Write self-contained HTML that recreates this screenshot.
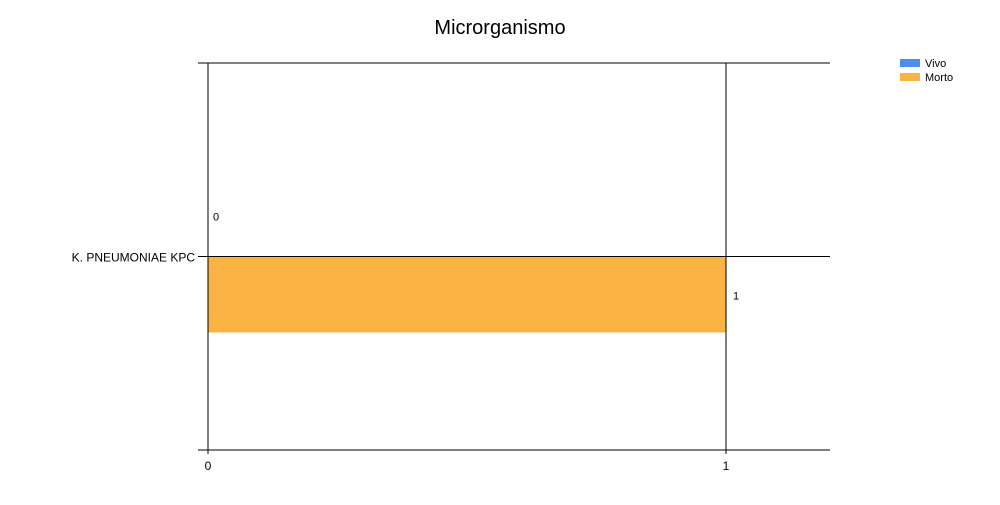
<!DOCTYPE html>
<html><head><meta charset="utf-8"><style>
body{margin:0;background:#fff;font-family:"Liberation Sans",sans-serif}
</style></head><body>
<svg id="c" width="1000" height="500" xmlns="http://www.w3.org/2000/svg" shape-rendering="crispEdges">
<text x="500" y="34" text-anchor="middle" font-size="20">Microrganismo</text>
<g>
<rect x="900" y="59" width="20" height="8" fill="#4a8ff0"/>
<text x="925" y="67" font-size="11">Vivo</text>
<rect x="900" y="73" width="20" height="8" fill="#fbb344"/>
<text x="925" y="81" font-size="11">Morto</text>
</g>
<g id="plot"></g>
</svg>
<script>
const categories=["K. PNEUMONIAE KPC"];
const vivo=[0];
const morto=[1];
const xTicks=[0,1];
const ns="http://www.w3.org/2000/svg";
const L=208,R=830,T=63,B=450;
const xs=v=>L+(726-L)*v/1;
const band=(B-T)/categories.length;
const g=document.getElementById('plot');
function mk(t,a,txt){const e=document.createElementNS(ns,t);for(const k in a)e.setAttribute(k,a[k]);if(txt!==undefined)e.textContent=txt;g.appendChild(e);return e;}
categories.forEach((c,i)=>{
 const cy=T+band*(i+0.5);
 const bh=band*0.197;
 const vb=mk('rect',{x:L,y:cy-bh,width:xs(vivo[i])-L,height:bh,fill:'#4a8ff0'});
 
 
 const vt=mk('text',{x:xs(vivo[i])+5,y:cy-36,'font-size':11},String(vivo[i]));
 
 
 const mb=mk('rect',{x:L,y:cy,width:xs(morto[i])-L,height:bh,fill:'#fbb344'});
 
 
 const mt=mk('text',{x:xs(morto[i])+7,y:cy+43,'font-size':11},String(morto[i]));
 
 
 const gl=mk('line',{x1:198,x2:R,y1:cy,y2:cy,stroke:'#000'});
 
 
 const lab=mk('text',{x:195,y:cy+5,'text-anchor':'end','font-size':12},c);
 
 
});
xTicks.forEach(v=>{
 const l=mk('line',{x1:xs(v),x2:xs(v),y1:T,y2:B+4,stroke:'#000'});
 
 
 const t=mk('text',{x:xs(v),y:B+20,'text-anchor':'middle','font-size':12},String(v));
 
 
});
for(let i=0;i<=categories.length;i++){
 const y=T+band*i;
 const l=mk('line',{x1:198,x2:R,y1:y,y2:y,stroke:'#000'});
 
 
}
</script>
</body></html>
